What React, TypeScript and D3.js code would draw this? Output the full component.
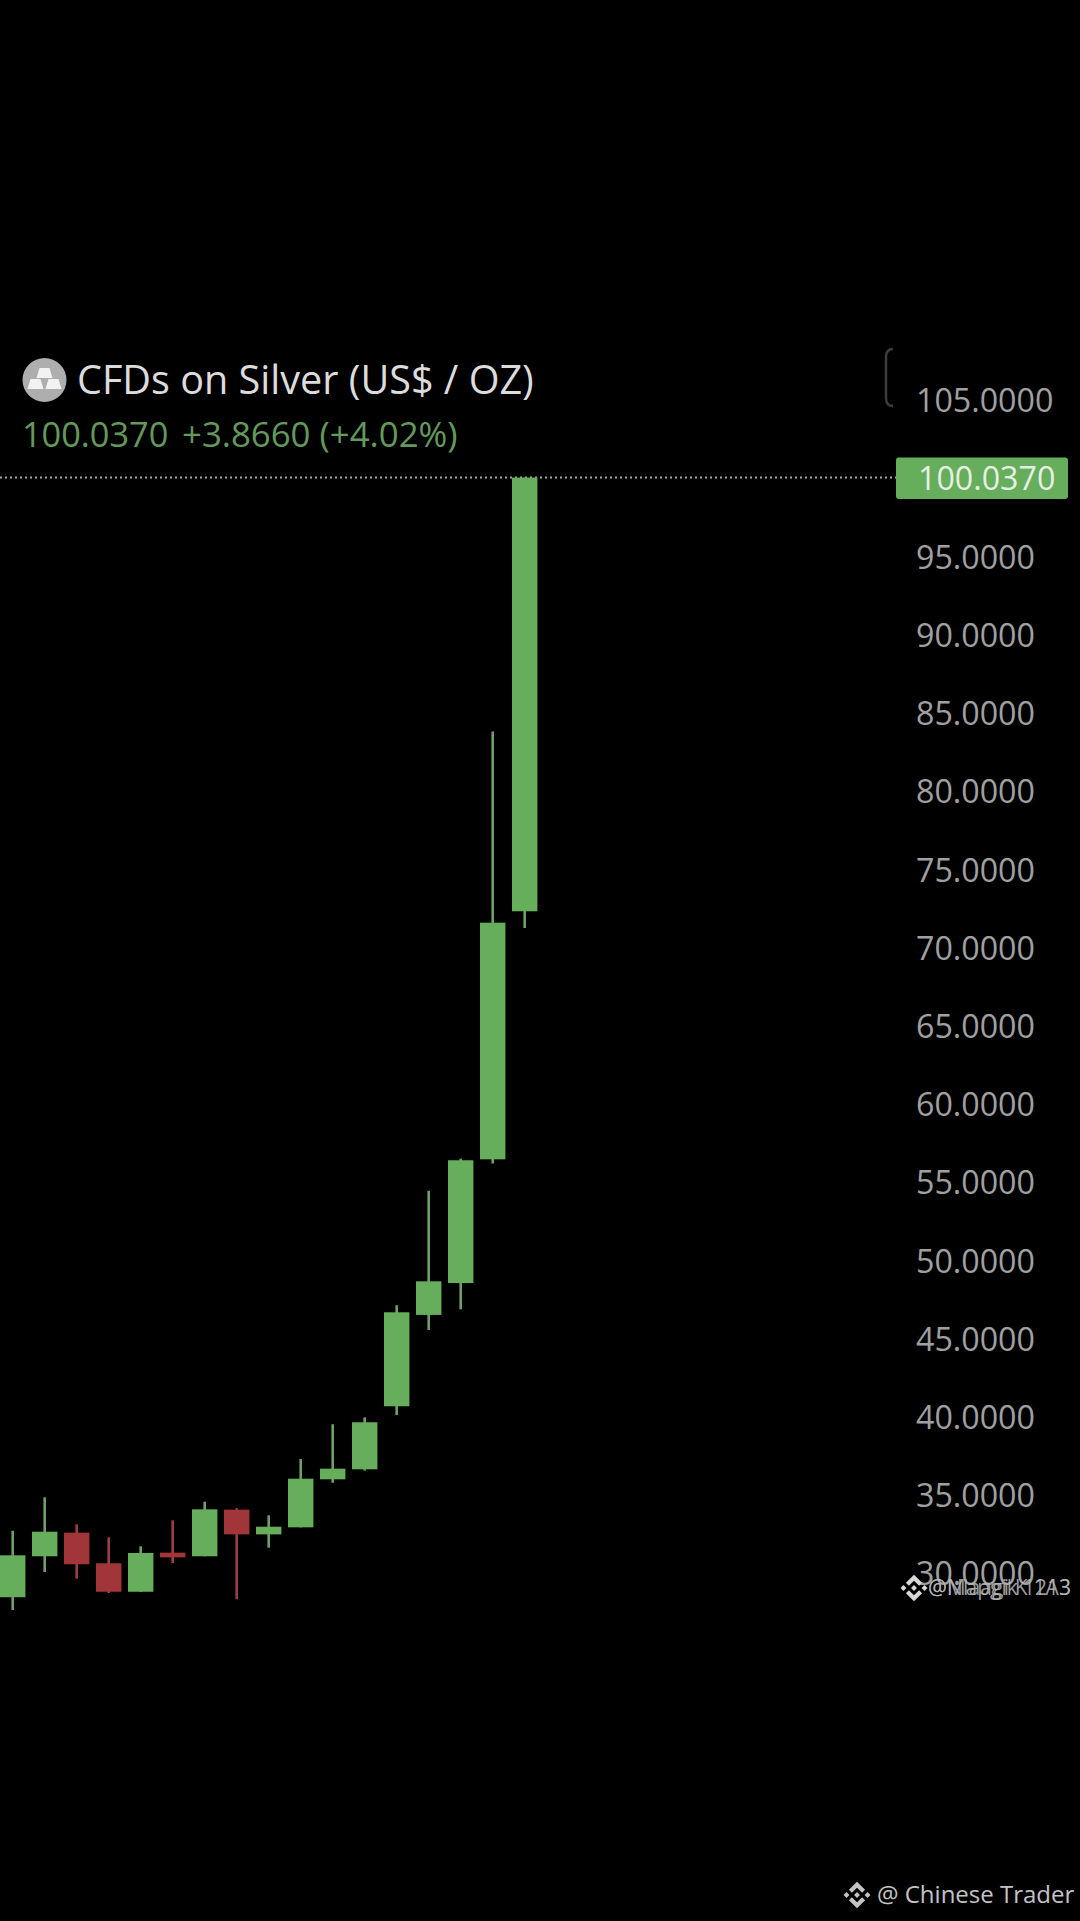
import React, { useEffect, useRef } from "react";
import * as d3 from "d3";

// values, oldest candle first
const opens = [28.45, 31.07, 32.58, 30.62, 28.8, 31.3, 31.07, 34.05, 32.47, 32.92, 35.99, 36.63, 40.66, 46.5, 48.54, 56.45, 72.31];
const closes = [31.13, 32.64, 30.56, 28.8, 31.28, 31.0, 34.07, 32.47, 32.96, 36.03, 36.67, 39.64, 46.67, 48.65, 56.39, 71.58, 100.037];
const highs = [32.7, 34.84, 33.11, 32.28, 31.71, 33.37, 34.56, 34.14, 33.69, 37.29, 39.51, 39.95, 47.12, 54.44, 56.49, 83.81, 100.037];
const lows = [27.63, 30.06, 29.64, 28.72, 28.8, 30.64, 31.07, 28.32, 31.62, 32.92, 35.77, 36.55, 40.1, 45.54, 46.86, 56.19, 71.24];
const priceTicks = [105, 95, 90, 85, 80, 75, 70, 65, 60, 55, 50, 45, 40, 35, 30];
const lastPrice = 100.037;

const title = "CFDs on Silver (US$ / OZ)";
const lastLabel = "100.0370";
const changeLabel = "+3.8660 (+4.02%)";
const watermarks = ["@Mapgik 1213", "@Nlaagi K 1A3"];
const credit = "@ Chinese Trader";

const UP = "#66ad5c";
const DOWN = "#a23539";
const UP_WICK = "#6f9f69";
const DOWN_WICK = "#9a3f42";
const FONT = "'Open Sans', 'Noto Sans', sans-serif";

// diamond logo, drawn around 0,0 for a size of 1
const LOGO =
	"M-0.19,-0.08 L0,-0.27 L0.19,-0.08 L0.3,-0.19 L0,-0.49 L-0.3,-0.19 Z " +
	"M-0.19,0.08 L0,0.27 L0.19,0.08 L0.3,0.19 L0,0.49 L-0.3,0.19 Z " +
	"M0,-0.11 L0.11,0 L0,0.11 L-0.11,0 Z " +
	"M-0.39,-0.11 L-0.28,0 L-0.39,0.11 L-0.5,0 Z " +
	"M0.39,-0.11 L0.5,0 L0.39,0.11 L0.28,0 Z";

export default function App() {
	const svgRef = useRef<SVGSVGElement | null>(null);

	useEffect(() => {
		if (!svgRef.current) return;
		document.body.style.margin = "0";
		document.body.style.background = "#000";

		const svg = d3.select(svgRef.current);
		svg.selectAll("*").remove();

		const yScale = d3.scaleLinear().domain([30, 105]).range([1573, 400]);
		const xScale = d3.scaleLinear().domain([0, 16]).range([12.7, 524.7]);
		const bodyWidth = 25.4;

		// axis labels
		const axis = svg
			.append("g")
			.attr("transform", "translate(916,1.5)")
			.call(d3.axisRight(yScale).tickValues(priceTicks).tickFormat(d3.format(".4f")).tickSize(0).tickPadding(0));
		axis.select(".domain").remove();
		axis
			.selectAll("text")
			.attr("fill", "#a0a0a0")
			.style("font-family", FONT)
			.style("font-size", "32.2px");

		// last price line
		svg
			.append("line")
			.attr("x1", 0)
			.attr("x2", 896)
			.attr("y1", yScale(lastPrice))
			.attr("y2", yScale(lastPrice))
			.attr("stroke", "#a5a5a5")
			.attr("stroke-width", 2)
			.attr("stroke-dasharray", "2,3");

		// candles
		const candles = d3.range(opens.length);
		svg
			.append("g")
			.selectAll("line")
			.data(candles)
			.enter()
			.append("line")
			.attr("x1", (i) => xScale(i))
			.attr("x2", (i) => xScale(i))
			.attr("y1", (i) => yScale(highs[i]))
			.attr("y2", (i) => yScale(lows[i]))
			.attr("stroke", (i) => (closes[i] >= opens[i] ? UP_WICK : DOWN_WICK))
			.attr("stroke-width", 2.6);
		svg
			.append("g")
			.selectAll("rect")
			.data(candles)
			.enter()
			.append("rect")
			.attr("x", (i) => xScale(i) - bodyWidth / 2)
			.attr("width", bodyWidth)
			.attr("y", (i) => yScale(Math.max(opens[i], closes[i])))
			.attr("height", (i) => Math.abs(yScale(opens[i]) - yScale(closes[i])))
			.attr("fill", (i) => (closes[i] >= opens[i] ? UP : DOWN));

		// price badge
		svg.append("rect").attr("x", 896).attr("y", 457.5).attr("width", 172).attr("height", 41.5).attr("rx", 3).attr("fill", UP);
		svg
			.append("text")
			.attr("x", 918)
			.attr("y", yScale(lastPrice) + 12)
			.attr("fill", "#e6efe4")
			.style("font-family", FONT)
			.style("font-size", "32.2px")
			.text(lastLabel);

		// header
		const icon = svg.append("g").attr("transform", "translate(44.5,380)");
		icon.append("circle").attr("r", 22).attr("fill", "#aeaeae");
		const bars: [number, number][] = [
			[-8, -12],
			[-17, -1],
			[1, -1],
		];
		icon
			.selectAll("path")
			.data(bars)
			.enter()
			.append("path")
			.attr("transform", (d) => `translate(${d[0]},${d[1]})`)
			.attr("d", "M3,0 L13,0 L16,10 L0,10 Z")
			.attr("fill", "#f2f2f2");
		svg
			.append("text")
			.attr("x", 77)
			.attr("y", 394)
			.attr("fill", "#dcdcdc")
			.style("font-family", FONT)
			.style("font-size", "39.6px")
			.text(title);
		svg
			.append("text")
			.attr("x", 22)
			.attr("y", 447)
			.attr("fill", "#639a5b")
			.style("font-family", FONT)
			.style("font-size", "34.3px")
			.text(lastLabel);
		svg
			.append("text")
			.attr("x", 182)
			.attr("y", 447)
			.attr("fill", "#639a5b")
			.style("font-family", FONT)
			.style("font-size", "34.8px")
			.text(changeLabel);

		// scrap of a button hidden behind the axis
		svg
			.append("path")
			.attr("d", "M893,349 Q886,349 886,357 L886,398 Q886,406 893,406")
			.attr("fill", "none")
			.attr("stroke", "#3c3c3c")
			.attr("stroke-width", 2.5);

		// watermarks
		svg.append("path").attr("d", LOGO).attr("transform", "translate(914,1588) scale(27)").attr("fill", "#d8d8d8");
		svg
			.selectAll("text.mark")
			.data(watermarks)
			.enter()
			.append("text")
			.attr("class", "mark")
			.attr("x", 928)
			.attr("y", 1595)
			.attr("fill", "#b8b8b8")
			.attr("fill-opacity", 0.85)
			.attr("textLength", 143)
			.style("font-family", FONT)
			.style("font-size", "21px")
			.text((d) => d);

		svg.append("path").attr("d", LOGO).attr("transform", "translate(857,1895) scale(27)").attr("fill", "#c4c4c4");
		svg
			.append("text")
			.attr("x", 877)
			.attr("y", 1903)
			.attr("fill", "#c4c4c4")
			.style("font-family", FONT)
			.style("font-size", "24px")
			.text(credit);
	}, []);

	return <svg ref={svgRef} width={1080} height={1921} style={{ display: "block", background: "#000" }} />;
}
